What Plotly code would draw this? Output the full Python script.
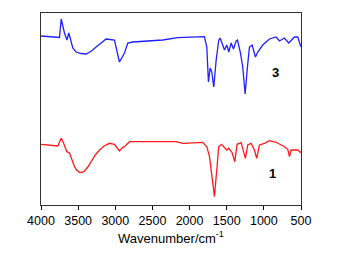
import plotly.graph_objects as go

# Spectrum 3 (blue): wavenumber (cm-1) and relative transmittance (a.u.)
wn3 = [4000, 3751, 3728, 3706, 3684, 3650, 3626, 3607, 3572, 3527, 3460, 3392, 3320, 3258, 3190,
       3123, 3011, 2944, 2876, 2832, 2765, 2361, 2163, 2001, 1800, 1768, 1746, 1723, 1701, 1674,
       1642, 1607, 1588, 1530, 1499, 1472, 1440, 1409, 1373, 1355, 1315, 1284, 1252, 1221, 1194,
       1158, 1113, 1082, 1015, 925, 835, 790, 723, 665, 588, 544, 500]
t3 = [169, 167.5, 186, 178, 172, 165, 172, 167, 157, 153, 151.5, 151, 154, 158, 162,
      166, 165, 143, 152, 162, 163, 165, 167.3, 168, 168.3, 158, 123, 137, 133, 118,
      145, 165, 167, 155, 160, 153, 162, 156, 164, 165, 152, 138, 111, 138, 158,
      160, 148, 153, 160, 166, 168, 164, 167, 162, 168, 168, 158]

# Spectrum 1 (red)
wn1 = [4000, 3774, 3728, 3697, 3652, 3616, 3549, 3520, 3482, 3450, 3414, 3370, 3325, 3270, 3212,
       3150, 3078, 3011, 2944, 2899, 2876, 2809, 2182, 2091, 1822, 1768, 1732, 1696, 1665, 1642,
       1607, 1570, 1499, 1472, 1427, 1391, 1360, 1306, 1275, 1248, 1217, 1172, 1127, 1096, 1060,
       992, 925, 835, 723, 678, 655, 633, 544, 500]
t1 = [60.7, 59, 66.7, 62, 53.3, 52, 38.3, 35, 32.7, 32.5, 34, 38, 43.3, 50, 55,
      59, 61.7, 60.7, 54, 57.7, 58.3, 63.3, 63.3, 61.7, 62.7, 58.3, 48.3, 28.3, 8.3, 28.3,
      58.3, 60.7, 55, 56.7, 52.3, 43.3, 60.7, 62.3, 55, 46.7, 60, 61.7, 55, 46.7, 60,
      61.7, 64.3, 62.7, 58.3, 55.7, 48.3, 55, 55, 52.3]

x_ticks = [4000, 3500, 3000, 2500, 2000, 1500, 1000, 500]
labels = ["3", "1"]
label_pos = [(850, 133), (880, 32)]

fig = go.Figure()
fig.add_trace(go.Scatter(x=wn3, y=t3, mode="lines", line=dict(color="#1f1fff", width=1.3),
                         showlegend=False))
fig.add_trace(go.Scatter(x=wn1, y=t1, mode="lines", line=dict(color="#ff1a1a", width=1.3),
                         showlegend=False))
for lab, (lx, ly) in zip(labels, label_pos):
    fig.add_annotation(x=lx, y=ly, text="<b>" + lab + "</b>", showarrow=False,
                       font=dict(family="Liberation Sans, Arial", size=13, color="black"))

fig.update_layout(
    width=344, height=259,
    margin=dict(l=33, r=51, t=5, b=62, autoexpand=False),
    plot_bgcolor="white", paper_bgcolor="white",
    font=dict(family="Liberation Sans, Arial", size=12, color="black"),
    xaxis=dict(range=[4000, 500], tickvals=x_ticks, ticktext=[str(v) for v in x_ticks],
               ticks="outside", ticklen=4, tickcolor="black", showgrid=False, zeroline=False,
               showline=True, linecolor="#333", linewidth=1, mirror=True, automargin=False,
               title=dict(text="Wavenumber/cm<sup>-1</sup>", standoff=6,
                          font=dict(size=13)),
               tickfont=dict(size=12.5)),
    yaxis=dict(range=[0, 192], showticklabels=False, ticks="", showgrid=False, zeroline=False,
               showline=True, linecolor="#333", linewidth=1, mirror=True, automargin=False),
)
fig.write_html("out.html")
